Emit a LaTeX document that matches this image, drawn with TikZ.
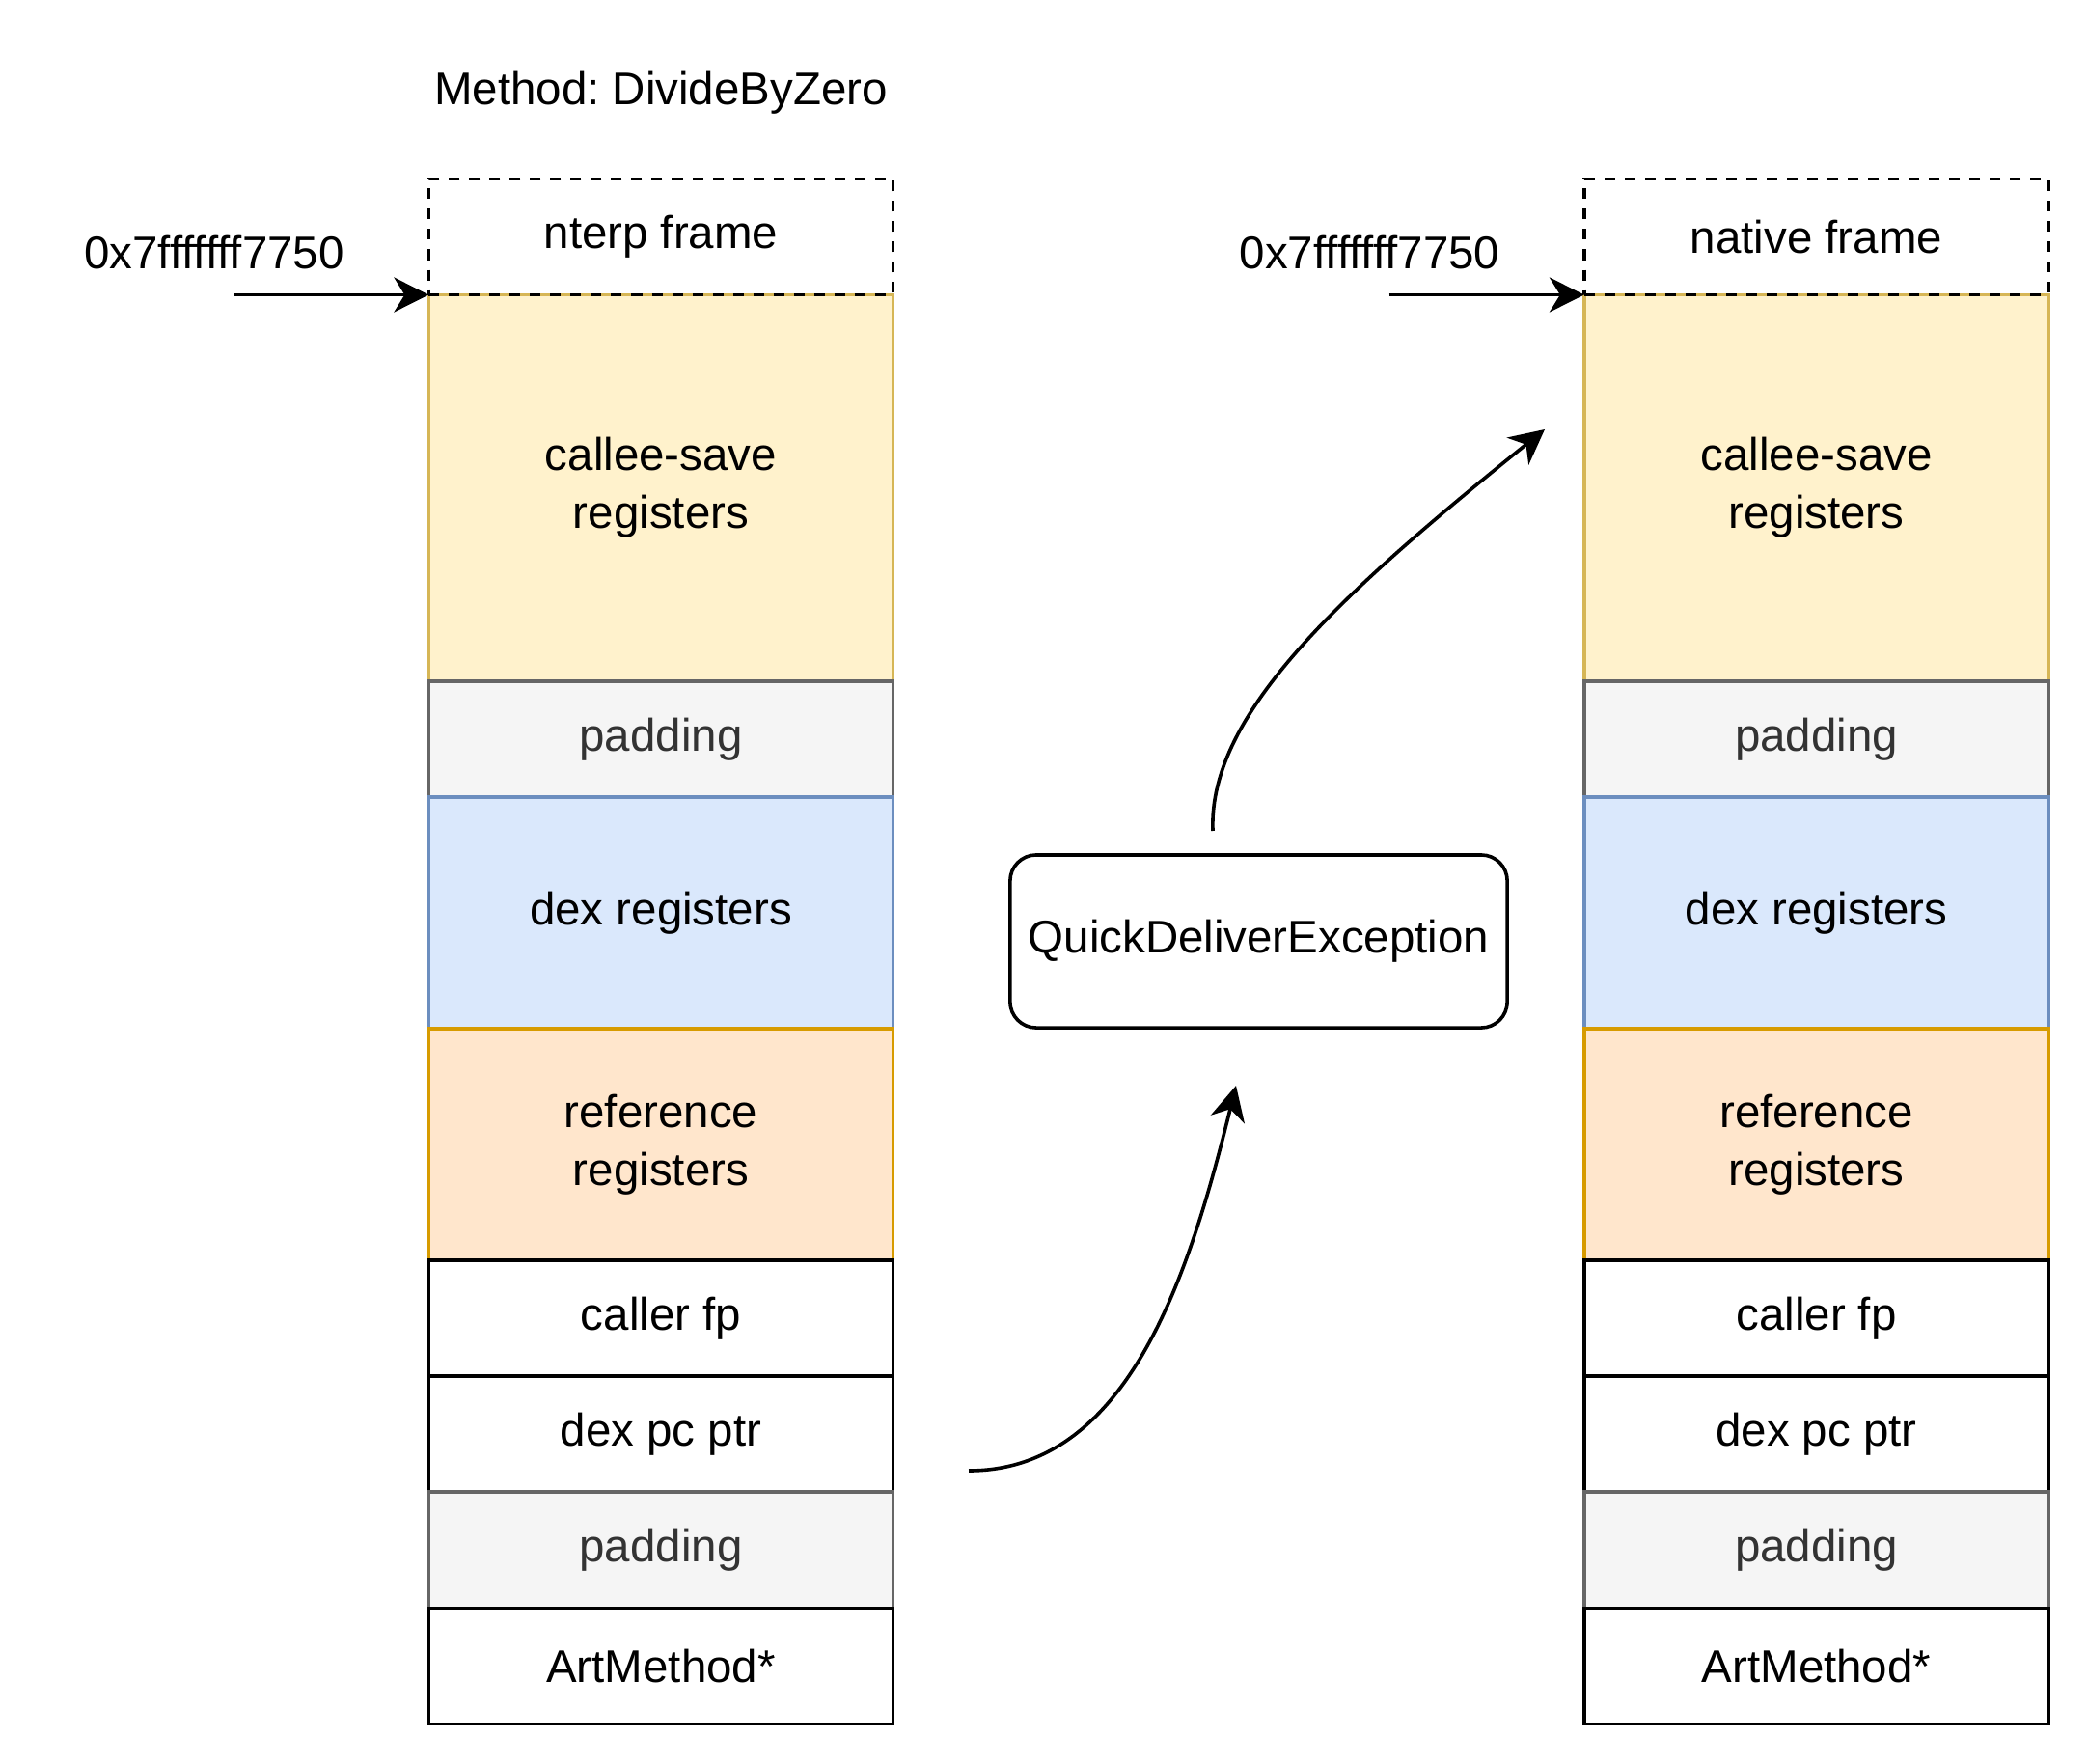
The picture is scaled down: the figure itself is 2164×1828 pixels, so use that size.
\documentclass[tikz,border=0pt]{standalone}
\usepackage{fontspec}
\setmainfont{Liberation Sans}
\frenchspacing
\usetikzlibrary{positioning,arrows.meta}
\definecolor{yelfill}{HTML}{FFF2CC}
\definecolor{yeldraw}{HTML}{D6B656}
\definecolor{padfill}{HTML}{F5F5F5}
\definecolor{paddraw}{HTML}{666666}
\definecolor{padtext}{HTML}{333333}
\definecolor{dexfill}{HTML}{DAE8FC}
\definecolor{dexdraw}{HTML}{6C8EBF}
\definecolor{reffill}{HTML}{FFE6CC}
\definecolor{refdraw}{HTML}{D79B00}
\tikzset{
	celltext/.style={font=\fontsize{13.5pt}{17pt}\selectfont, align=center},
	cell/.style={celltext, draw=black, fill=white, line width=0.036cm, minimum width=4.81cm, minimum height=1.2cm, inner sep=0pt, outer sep=0pt},
	yelcell/.style={cell, fill=yelfill, draw=yeldraw, minimum height=4cm},
	padcell/.style={cell, fill=padfill, draw=paddraw, text=padtext},
	dexcell/.style={cell, fill=dexfill, draw=dexdraw, minimum height=2.4cm},
	refcell/.style={cell, fill=reffill, draw=refdraw, minimum height=2.4cm},
	framecell/.style={cell, fill=none, dash pattern=on 0.11cm off 0.1cm},
	qdebox/.style={cell, rounded corners=0.27cm, minimum width=5.15cm, minimum height=1.79cm},
	flow/.style={-{Stealth[length=0.36cm, width=0.36cm, inset=0.11cm]}, line width=0.036cm}
}
\begin{document}
\begin{tikzpicture}[x=0.01cm, y=-0.01cm]
					\useasboundingbox (0,0) rectangle (2164,1828);
					\node[celltext] (title) at (685,96) {Method: DivideByZero};
					\foreach \c/\x/\t in {l/685/nterp frame, r/1882.5/native frame} {
						\node[yelcell, anchor=north] (\c-cs) at (\x,305.5) {callee-save\\registers};
						\node[padcell, below=0pt of \c-cs] (\c-pad1) {padding};
						\node[dexcell, below=0pt of \c-pad1] (\c-dex) {dex registers};
						\node[refcell, below=0pt of \c-dex] (\c-ref) {reference\\registers};
						\node[cell, below=0pt of \c-ref] (\c-fp) {caller fp};
						\node[cell, below=0pt of \c-fp] (\c-pc) {dex pc ptr};
						\node[padcell, below=0pt of \c-pc] (\c-pad2) {padding};
						\node[cell, below=0pt of \c-pad2] (\c-art) {ArtMethod*};
						\node[framecell, above=0pt of \c-cs] (\c-top) {\t};
						\node[celltext] (\c-addr) at (\x-463,262) {0x7fffffff7750};
						\coordinate (\c-from) at (\x-443,305.5);
						\draw[flow] (\c-from) -- (\c-top.south west);
					}
					\node[qdebox] (qde) at (1304.5,975.5) {QuickDeliverException};
					% exception delivery
					\coordinate (lo-from) at (1004,1524);
					\coordinate (lo-to) at (1281,1125);
					\draw[flow] (lo-from) .. controls (1170,1524) and (1233,1319) .. (lo-to);
					\coordinate (up-from) at (1257,861);
					\coordinate (up-to) at (1601,445);
					\draw[flow] (up-from) .. controls (1252,740) and (1390,615) .. (up-to);
				\end{tikzpicture}
\end{document}
